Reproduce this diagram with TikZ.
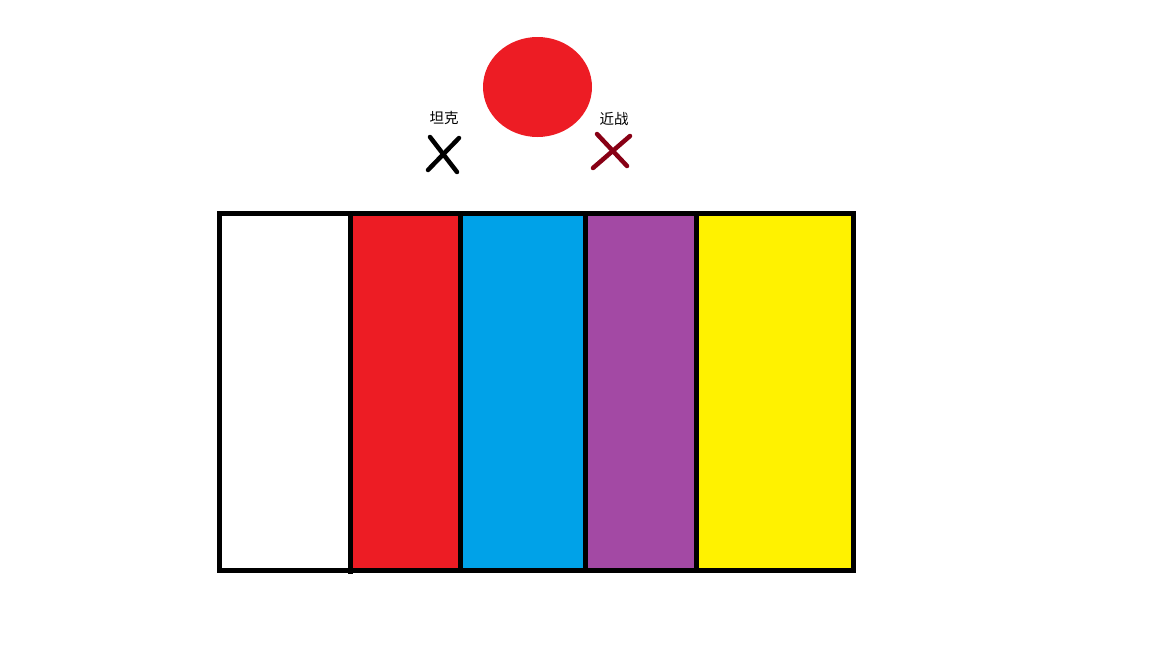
\documentclass[tikz,border=0pt]{standalone}
\usepackage{fontspec}
\newfontfamily\cjk{Noto Sans CJK SC}
\definecolor{paintred}{HTML}{ED1C24}
\definecolor{paintblue}{HTML}{00A2E8}
\definecolor{paintpurple}{HTML}{A349A4}
\definecolor{paintyellow}{HTML}{FFF200}
\definecolor{paintdark}{HTML}{880015}
\begin{document}
\begin{tikzpicture}
[x=1pt, y=-1pt, font=\cjk\fontsize{14.5}{14.5}\selectfont,
       cross/.style={line width=4.5pt, line cap=round},
       border/.style={line width=5pt}]
  \useasboundingbox (0,0) rectangle (1152,648);
  % colour bands
  \fill[paintred]    (350,213.5) rectangle (460,570);
  \fill[paintblue]   (460,213.5) rectangle (585,570);
  \fill[paintpurple] (585,213.5) rectangle (696,570);
  \fill[paintyellow] (696,213.5) rectangle (853,570);
  % frame
  \draw[border] (219.5,213.5) rectangle (853,570);
  \draw[border] (350,213.5) -- (350,574);
  \foreach \x in {460,585,696}
    \draw[border] (\x,213.5) -- (\x,570);
  % ball
  \fill[paintred] (537.5,87) ellipse [x radius=54.5, y radius=50];
  % tank
  \node (tank) at (444,118) {坦克};
  \draw[cross] (430,137) -- (457,172);
  \draw[cross] (459,138) -- (428,170);
  % melee
  \node (melee) at (614,119) {近战};
  \draw[cross, paintdark] (597,134) -- (627,166);
  \draw[cross, paintdark] (630,136) -- (593,168);
\end{tikzpicture}
\end{document}
